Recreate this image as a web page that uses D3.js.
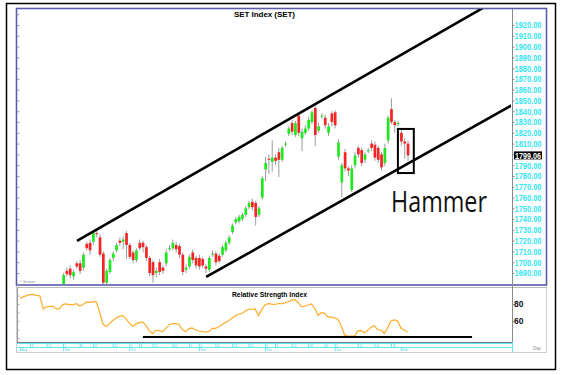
<!DOCTYPE html>
<html>
<head>
<meta charset="utf-8">
<script src="https://cdn.jsdelivr.net/npm/d3@7"></script>
<style>
  body { margin: 0; background: #fff; }
  svg { display: block; }
</style>
</head>
<body>
<script>
// ---- data ----
// RSI, one value per trading day
const rsi = [86.6, 88.4, 89.9, 91.0, 91.3, 90.1, 89.4, 74.2, 76.7, 77.3,
  77.2, 74.0, 74.8, 79.5, 80.1, 79.3, 79.3, 80.4, 77.6, 79.5,
  82.3, 82.0, 82.8, 82.5, 71.2, 56.7, 53.3, 56.9, 60.5, 63.4,
  65.5, 66.4, 62.9, 57.5, 53.5, 56.3, 58.1, 59.0, 54.8, 48.9,
  45.2, 49.1, 48.7, 47.2, 51.3, 55.4, 57.0, 56.9, 56.1, 50.1,
  47.4, 51.0, 51.9, 49.4, 48.2, 47.8, 46.8, 47.5, 51.3, 51.4,
  52.9, 55.8, 58.3, 60.4, 63.3, 66.1, 68.0, 68.8, 71.4, 73.7,
  73.8, 74.2, 66.3, 73.4, 79.1, 80.5, 79.8, 79.4, 80.6, 80.3,
  81.4, 82.7, 84.6, 85.2, 81.5, 76.8, 77.4, 78.8, 80.0, 75.0,
  66.8, 69.8, 69.0, 64.6, 64.6, 63.5, 62.0, 54.3, 43.6, 42.3,
  42.3, 42.3, 48.4, 48.7, 46.0, 49.0, 52.7, 54.5, 49.6, 49.4,
  45.4, 51.7, 60.1, 61.3, 60.3, 51.7, 49.3, 46.7];

// candles [open, high, low, close]; earlier days sit below the visible range
const candleStart = 13;
const ohlc = [
  [1679,1690,1676,1688], [1692,1695,1687,1689], [1694,1697,1685,1688], [1687,1693,1684,1691],
  [1699,1701,1694,1696], [1699,1702,1689,1692], [1695,1709,1692,1707], [1717,1719,1711,1713],
  [1718,1721,1707,1711], [1719,1729,1716,1727], [1727,1730,1723,1726], [1723,1726,1705,1707],
  [1708,1710,1679,1681], [1681,1694,1678,1692], [1691,1704,1689,1702], [1704,1710,1701,1708],
  [1711,1718,1709,1716], [1720,1723,1715,1718], [1719,1724,1712,1721], [1727,1729,1703,1716],
  [1716,1718,1703,1705], [1709,1711,1699,1702], [1702,1713,1700,1711], [1718,1721,1711,1713],
  [1718,1720,1709,1714], [1714,1716,1701,1704], [1704,1706,1687,1690], [1700,1702,1681,1688],
  [1690,1695,1686,1692], [1700,1703,1688,1691], [1695,1697,1689,1692], [1699,1712,1696,1709],
  [1712,1716,1710,1713], [1713,1721,1711,1718], [1716,1719,1709,1712], [1715,1717,1704,1707],
  [1707,1709,1688,1691], [1693,1698,1690,1695], [1696,1707,1694,1705], [1709,1712,1699,1702],
  [1704,1706,1694,1697], [1704,1707,1693,1696], [1703,1705,1695,1697], [1696,1698,1690,1694],
  [1693,1706,1691,1704], [1707,1711,1705,1708], [1708,1710,1697,1700], [1706,1708,1699,1701],
  [1707,1716,1705,1714], [1711,1720,1709,1718], [1718,1725,1716,1723], [1728,1736,1726,1734],
  [1737,1742,1735,1740], [1738,1744,1736,1742], [1740,1746,1738,1744], [1744,1752,1742,1750],
  [1751,1757,1749,1755], [1756,1759,1748,1751], [1755,1757,1734,1742], [1744,1752,1742,1750],
  [1760,1780,1758,1778], [1786,1798,1775,1792], [1796,1800,1782,1795], [1793,1813,1784,1797],
  [1797,1800,1790,1794], [1802,1806,1779,1795], [1795,1808,1793,1806], [1809,1812,1807,1810],
  [1819,1826,1817,1824], [1829,1832,1818,1821], [1818,1831,1816,1829], [1836,1838,1817,1820],
  [1815,1824,1803,1821], [1820,1827,1818,1824], [1824,1835,1822,1832], [1830,1841,1828,1839],
  [1843,1845,1808,1818], [1822,1829,1820,1826], [1835,1838,1833,1836], [1834,1837,1824,1827],
  [1820,1829,1817,1826], [1838,1840,1826,1830], [1839,1841,1824,1827], [1798,1814,1795,1811],
  [1774,1792,1760,1790], [1802,1805,1784,1787], [1787,1789,1780,1785], [1767,1790,1765,1787],
  [1790,1802,1787,1799], [1806,1808,1797,1800], [1804,1806,1789,1792], [1795,1802,1792,1800],
  [1803,1806,1801,1804], [1810,1813,1803,1806], [1809,1812,1794,1797], [1806,1808,1792,1795],
  [1800,1802,1785,1788], [1792,1810,1789,1806], [1813,1836,1810,1834], [1842,1852,1828,1830],
  [1830,1832,1820,1827], [1828,1831,1826,1829], [1820,1823,1808,1812], [1812,1815,1796,1810],
  [1810,1813,1794,1799.06]
];
const lastClose = 1799.06;

const priceTicks = d3.range(1690, 1921, 10);
const rsiTicks = [60, 80];

// drawn lines, as [day index, value]
const upperChannel = [[17.2, 1719.7], [160, 1971.5]];
const lowerChannel = [[56.2, 1686.3], [160, 1865.5]];
const rsiSupport = [[37.1, 41.2], [136.5, 41.2]];
const hammerBox = { from: 114.1, to: 118.9, top: 1823.6, bottom: 1782.7 };

const weekTicks = [3, 8, 13, 18, 22, 28, 33, 36, 40, 46, 51, 54, 59, 64, 69, 74, 77, 82, 87, 92, 95, 102, 107, 112];
const weekLabels = ['8', '15', '1', '8', '15', '22', '1', '6', '13', '20', '1', '4', '11', '18', '25', '1', '5', '12', '19', '1', '5', '12', '19', '26'];
const monthTicks = [0, 13, 33, 54, 74, 95, 115];
const monthLabels = ['Aug', 'Sep', 'Oct', 'Nov', 'Dec', 'Jan', 'Feb'];

// ---- chart ----
const W = 567, H = 375;
const svg = d3.select('body').append('svg').attr('width', W).attr('height', H);

const x = d3.scaleLinear().domain([0, rsi.length - 1]).range([20, 407.5]);
const y = d3.scaleLinear().domain([1690, 1920]).range([273, 25]);
const yR = d3.scaleLinear().domain([60, 80]).range([321, 304]);

const defs = svg.append('defs');
defs.append('clipPath').attr('id', 'plot')
  .append('rect').attr('x', 17).attr('y', 9).attr('width', 494).attr('height', 275);
defs.append('clipPath').attr('id', 'rsiplot')
  .append('rect').attr('x', 17).attr('y', 288).attr('width', 494).attr('height', 54);

// outer frame
svg.append('rect').attr('x', 6.5).attr('y', 3.5).attr('width', 549).attr('height', 366)
  .attr('fill', 'none').attr('stroke', '#000').attr('stroke-width', 1.5);
svg.append('rect').attr('x', 16.5).attr('y', 8.5).attr('width', 530).attr('height', 344)
  .attr('fill', 'none').attr('stroke', '#cfcfcf');

// price panel border
svg.append('rect').attr('x', 16.5).attr('y', 8.5).attr('width', 530).attr('height', 276.5)
  .attr('fill', 'none').attr('stroke', '#5b5baa').attr('stroke-width', 1.6);

// RSI panel border
svg.append('line').attr('x1', 17).attr('x2', 547).attr('y1', 287.5).attr('y2', 287.5).attr('stroke', '#bbb');
svg.append('line').attr('x1', 17.5).attr('x2', 17.5).attr('y1', 287).attr('y2', 342).attr('stroke', '#999');

// axis divider
svg.append('line').attr('x1', 512.5).attr('x2', 512.5).attr('y1', 9).attr('y2', 342).attr('stroke', '#8a8a8a');

// small ticks on the left edges
svg.append('g').selectAll('line').data(d3.range(1680, 1936, 10)).join('line')
  .attr('x1', 17).attr('x2', 19.5).attr('y1', d => y(d) + 0.5).attr('y2', d => y(d) + 0.5)
  .attr('stroke', '#9a9ab0');
svg.append('g').selectAll('line').data(d3.range(40, 101, 10)).join('line')
  .attr('x1', 17).attr('x2', 19.5).attr('y1', d => yR(d) + 0.5).attr('y2', d => yR(d) + 0.5)
  .attr('stroke', '#aaa');

// price axis
const yAxis = svg.append('g').attr('transform', 'translate(512.5,0)')
  .call(d3.axisRight(y).tickValues(priceTicks).tickSize(2).tickFormat(d3.format('.2f')));
yAxis.select('.domain').remove();
yAxis.selectAll('line').attr('stroke', '#8a8a8a');
yAxis.selectAll('text')
  .attr('x', 2)
  .attr('fill', '#33e6f0')
  .attr('font-family', 'Liberation Sans Narrow, Arial Narrow, Liberation Sans, sans-serif')
  .attr('font-weight', 'bold')
  .attr('font-size', 9)
  .attr('textLength', 27)
  .attr('lengthAdjust', 'spacingAndGlyphs');

// last price tag
svg.append('rect').attr('x', 514).attr('y', y(lastClose) - 4).attr('width', 28).attr('height', 8).attr('fill', '#000');
svg.append('text').attr('x', 515).attr('y', y(lastClose) + 3.2)
  .attr('fill', '#fff').attr('font-family', 'Liberation Sans Narrow, Arial Narrow, Liberation Sans, sans-serif')
  .attr('font-weight', 'bold').attr('font-size', 9)
  .attr('textLength', 26).attr('lengthAdjust', 'spacingAndGlyphs')
  .text(lastClose.toFixed(2));

// title
svg.append('text').attr('x', 234).attr('y', 17)
  .attr('font-family', 'Liberation Sans, Arial, sans-serif').attr('font-weight', 'bold').attr('font-size', 8)
  .attr('textLength', 61).attr('lengthAdjust', 'spacing')
  .text('SET Index (SET)');

// candles
const candles = svg.append('g').attr('clip-path', 'url(#plot)')
  .selectAll('g').data(ohlc).join('g');
candles.append('line')
  .attr('x1', (d, i) => x(i + candleStart) + 0.5).attr('x2', (d, i) => x(i + candleStart) + 0.5)
  .attr('y1', d => y(d[1])).attr('y2', d => y(d[2]))
  .attr('stroke', '#9c9c9c').attr('stroke-width', 1);
candles.append('rect')
  .attr('x', (d, i) => x(i + candleStart) - 0.8)
  .attr('width', 2.7)
  .attr('y', d => y(Math.max(d[0], d[3])))
  .attr('height', d => Math.max(1, Math.abs(y(d[0]) - y(d[3]))))
  .attr('fill', d => d[3] >= d[0] ? '#1ee81e' : '#f42525');

// tiny watermark
svg.append('text').attr('x', 20).attr('y', 283).attr('font-size', 3).attr('fill', '#888')
  .attr('font-family', 'Liberation Sans, sans-serif').text('© Setsmart');

// channel lines
const line = d3.line().x(d => x(d[0])).y(d => y(d[1]));
svg.append('g').attr('clip-path', 'url(#plot)').selectAll('path')
  .data([upperChannel, lowerChannel]).join('path')
  .attr('d', line).attr('fill', 'none').attr('stroke', '#000').attr('stroke-width', 2.6);

// hammer box
svg.append('rect')
  .attr('x', x(hammerBox.from)).attr('y', y(hammerBox.top))
  .attr('width', x(hammerBox.to) - x(hammerBox.from))
  .attr('height', y(hammerBox.bottom) - y(hammerBox.top))
  .attr('fill', 'none').attr('stroke', '#000').attr('stroke-width', 2);

svg.append('text').attr('x', 391).attr('y', 212)
  .attr('font-family', 'Open Sans, Lato, sans-serif').attr('font-size', 30)
  .attr('textLength', 96).attr('lengthAdjust', 'spacingAndGlyphs')
  .attr('fill', '#111')
  .text('Hammer');

// RSI panel
svg.append('text').attr('x', 232).attr('y', 297)
  .attr('font-family', 'Liberation Sans, Arial, sans-serif').attr('font-weight', 'bold').attr('font-size', 8)
  .attr('textLength', 75).attr('lengthAdjust', 'spacingAndGlyphs')
  .text('Relative Strength Index');

svg.append('path').datum(rsi).attr('clip-path', 'url(#rsiplot)')
  .attr('d', d3.line().x((d, i) => x(i)).y(d => yR(d)))
  .attr('fill', 'none').attr('stroke', '#ffad2a').attr('stroke-width', 1.2);

svg.append('path').datum(rsiSupport)
  .attr('d', d3.line().x(d => x(d[0])).y(d => yR(d[1])))
  .attr('stroke', '#000').attr('stroke-width', 2.2);

const rAxis = svg.append('g').attr('transform', 'translate(512.5,0)')
  .call(d3.axisRight(yR).tickValues(rsiTicks).tickSize(2));
rAxis.select('.domain').remove();
rAxis.selectAll('line').attr('stroke', '#8a8a8a');
rAxis.selectAll('text').attr('x', 1.5).attr('fill', '#111')
  .attr('font-family', 'Liberation Sans, Arial, sans-serif').attr('font-weight', 'bold').attr('font-size', 8.5);

// date axis
svg.append('line').attr('x1', 17).attr('x2', 512).attr('y1', 342.5).attr('y2', 342.5).attr('stroke', '#777');
svg.append('line').attr('x1', 17).attr('x2', 512).attr('y1', 343.5).attr('y2', 343.5).attr('stroke', '#5fe8f2');
svg.append('line').attr('x1', 17).attr('x2', 512).attr('y1', 347.5).attr('y2', 347.5).attr('stroke', '#5fe8f2');
svg.append('line').attr('x1', 512.5).attr('x2', 512.5).attr('y1', 342).attr('y2', 352).attr('stroke', '#5fe8f2');

const wk = svg.append('g').selectAll('g').data(weekTicks).join('g')
  .attr('transform', d => `translate(${x(d) + 0.5},0)`);
wk.append('line').attr('y1', 343).attr('y2', 347).attr('stroke', '#5fe8f2');
wk.append('text').attr('x', 1).attr('y', 346.5).attr('font-size', 3).attr('fill', '#3fcfe0')
  .attr('font-family', 'Liberation Sans, sans-serif')
  .text((d, i) => weekLabels[i]);

const mo = svg.append('g').selectAll('g').data(monthTicks).join('g')
  .attr('transform', d => `translate(${x(d) + 0.5},0)`);
mo.append('line').attr('y1', 347).attr('y2', 351).attr('stroke', '#5fe8f2');
mo.append('text').attr('x', 1).attr('y', 351).attr('font-size', 3).attr('fill', '#3fcfe0')
  .attr('font-family', 'Liberation Sans, sans-serif')
  .text((d, i) => monthLabels[i]);

svg.append('text').attr('x', 533).attr('y', 349.5).attr('font-size', 4.5).attr('fill', '#888')
  .attr('font-family', 'Liberation Sans, sans-serif').text('Day');
</script>
</body>
</html>
